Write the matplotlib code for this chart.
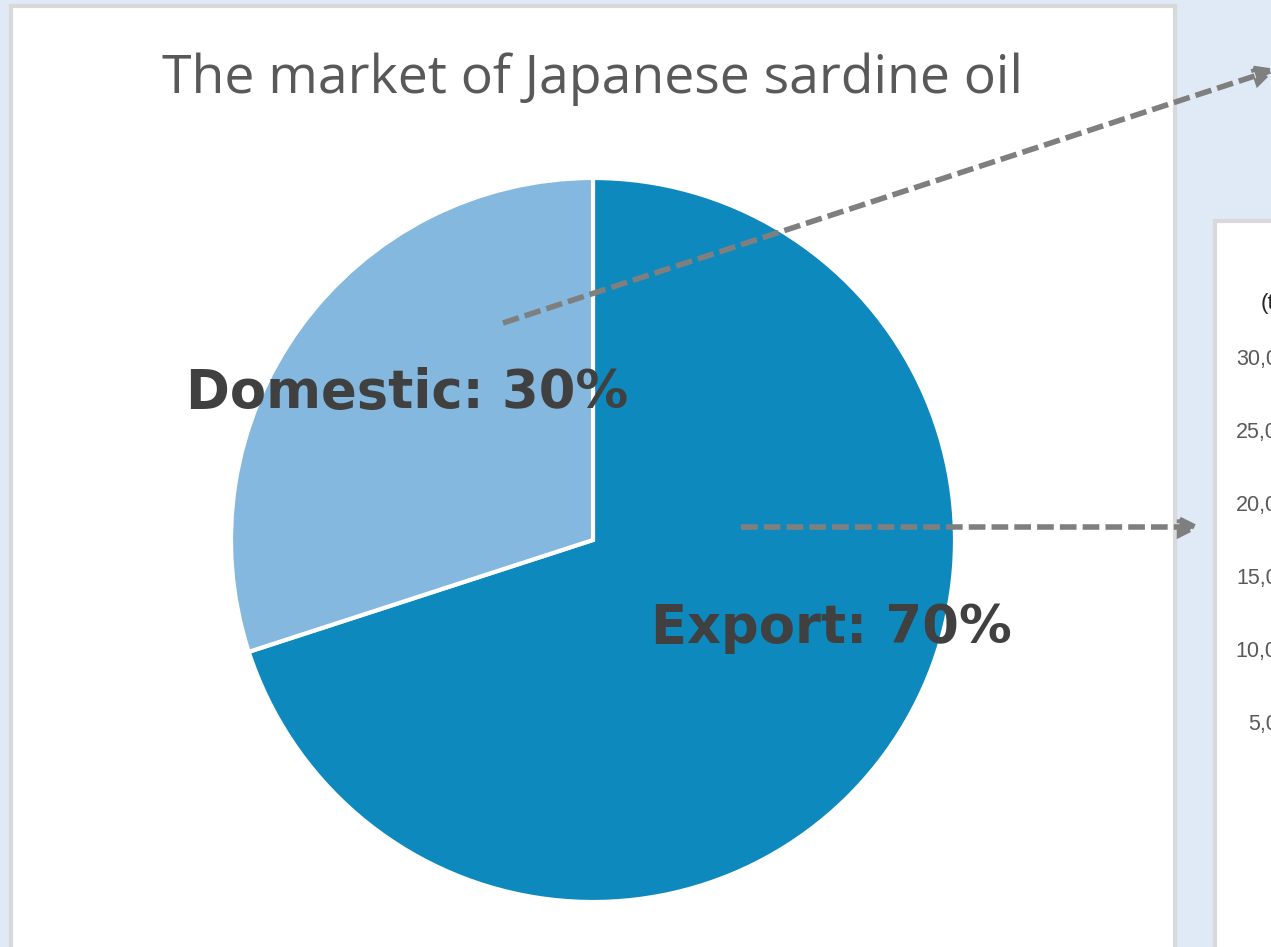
import numpy as np
import matplotlib.pyplot as plt
from matplotlib.patches import Rectangle

# data
title = "The market of Japanese sardine oil"
segments = ["Export", "Domestic"]
shares = [70, 30]
colors = ["#0e89bd", "#84b8de"]
volume_ticks = [5000, 10000, 15000, 20000, 25000, 30000]

W, H = 1271, 947
fig = plt.figure(figsize=(W / 100, H / 100), dpi=100)
fig.patch.set_facecolor("#dfeaf6")


def frac(x0, y0, w, h):
    # pixel box (top-left origin) -> figure fraction
    return [x0 / W, 1 - (y0 + h) / H, w / W, h / H]


# background layer: the two white cards
bg = fig.add_axes([0, 0, 1, 1], zorder=0)
bg.set_xlim(0, W)
bg.set_ylim(H, 0)
bg.axis("off")
bg.add_patch(Rectangle((11, 6), 1164, 960, facecolor="white",
                       edgecolor="#d9d9d9", lw=3))
bg.add_patch(Rectangle((1215, 221), 100, 760, facecolor="white",
                       edgecolor="#d9d9d9", lw=3))
bg.text(593, 79, title, ha="center", va="center", fontsize=38.5,
        family="Open Sans", color="#595959")
bg.text(1261, 303, "(t)", ha="left", va="center", fontsize=16,
        family="Liberation Sans", color="#262626")

# partially visible axis on the right card
vol = fig.add_axes(frac(1309, 357, 300, 438), zorder=1)
vol.set_ylim(0, 30000)
vol.set_yticks(volume_ticks)
vol.set_yticklabels([f"{v:,}" for v in volume_ticks])
vol.tick_params(axis="y", length=0, labelsize=15.5, labelcolor="#595959",
                pad=5)
vol.set_xticks([])
for s in vol.spines.values():
    s.set_visible(False)
vol.patch.set_alpha(0)
for lab in vol.get_yticklabels():
    lab.set_family("Liberation Sans")

# pie
cx, cy, r = 593, 540, 362
pax = fig.add_axes(frac(cx - r, cy - r, 2 * r, 2 * r), zorder=2)
pax.pie(shares, colors=colors, startangle=90, counterclock=False,
        radius=1, wedgeprops=dict(edgecolor="white", linewidth=3))
pax.set_xlim(-1, 1)
pax.set_ylim(-1, 1)

# overlay: labels and dashed call-out arrows
ov = fig.add_axes([0, 0, 1, 1], zorder=3)
ov.set_xlim(0, W)
ov.set_ylim(H, 0)
ov.axis("off")
ov.patch.set_alpha(0)

label_pos = {"Export": (831, 628), "Domestic": (407, 393)}
for seg, val in zip(segments, shares):
    x, y = label_pos[seg]
    ov.text(x, y, f"{seg}: {val}%", ha="center", va="center",
            fontsize=38, fontweight="bold", family="DejaVu Sans",
            color="#404040")

dash = (0, (3, 1.1))
arrow = dict(arrowstyle="-|>,head_length=1.1,head_width=0.55",
             color="#7f7f7f", lw=4, linestyle=dash, capstyle="butt",
             joinstyle="miter", shrinkA=0, shrinkB=0)
ov.annotate("", xy=(1276, 69), xytext=(503, 323), arrowprops=arrow,
            annotation_clip=False)
ov.annotate("", xy=(1201, 527), xytext=(741, 527), arrowprops=arrow,
            annotation_clip=False)

fig.savefig("out.png", dpi=100)
